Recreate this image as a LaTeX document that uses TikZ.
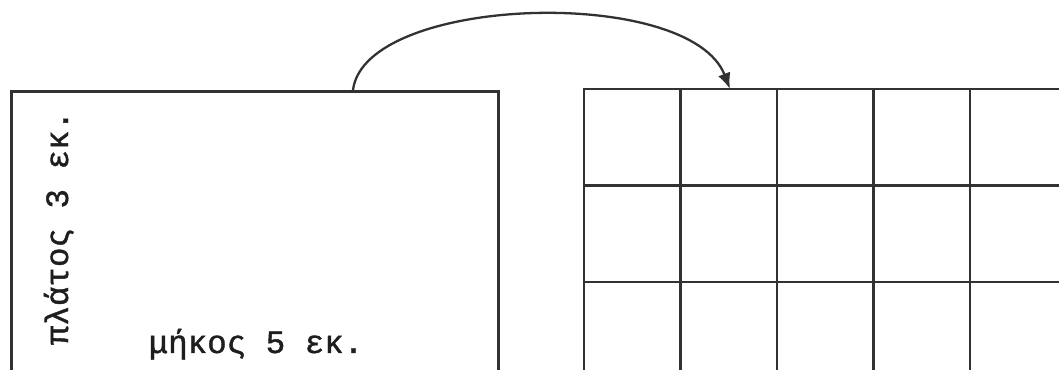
\documentclass[tikz,border=0pt]{standalone}
\usepackage{fontspec}
\newfontfamily\grmono[FakeBold=1.2]{Liberation Mono}
\usepackage{tikz}
\usetikzlibrary{calc,arrows,arrows.meta,positioning}
\definecolor{cLine}{RGB}{50,50,50}
\definecolor{cText}{RGB}{30,30,30}

\begin{document}
\begin{tikzpicture}[line width=1pt]
  \tikzset{
    caption/.style={text=cText,font=\grmono\fontsize{18.5}{20}\selectfont,inner sep=0pt},
    outline/.style={draw=cLine,line width=1.5pt}
  }
  \useasboundingbox (0,0) rectangle (21.18,7.4);
  \clip (0,0) rectangle (21.18,7.4);
  \fill[white] (0,0) rectangle (21.18,7.4);
  % the rectangle
  \node[outline,anchor=north west,minimum width=9.74cm,minimum height=8cm,inner sep=0pt] (plan) at (0.2,5.6) {};
  \node[caption,rotate=90,anchor=base] (wide) at (1.36,2.84) {πλάτος 3 εκ.};
  \node[caption,anchor=base] (long) at (5.12,0.34) {μήκος 5 εκ.};
  % the grid of squares
  \def\cell{1.93}
  \coordinate (tiles) at (11.68,5.62);
  \begin{scope}[shift={(tiles)}]
    \draw[outline,step=\cell] (0,-3*\cell) grid (5*\cell,0);
    \draw[outline] (0,-3*\cell) rectangle (5*\cell,0);
  \end{scope}
  % the arrow
  \coordinate (from) at (7.06,5.6);
  \coordinate (to) at ($(tiles)+(2.92,0)$);
  \draw[cLine,line width=1.3pt,-{Latex[length=0.32cm,width=0.26cm]}] (from) .. controls (7.3,7.5) and (13.8,7.7) .. (to);
\end{tikzpicture}
\end{document}
